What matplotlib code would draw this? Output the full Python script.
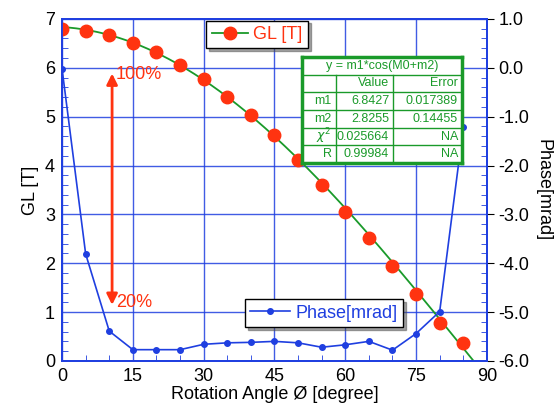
import numpy as np
import matplotlib.pyplot as plt
from matplotlib.ticker import MultipleLocator, FormatStrFormatter

plt.rcParams['font.family'] = ['Liberation Sans', 'DejaVu Sans']

# measured data
angle = [0, 5, 10, 15, 20, 25, 30, 35, 40, 45, 50, 55, 60, 65, 70, 75, 80, 85]
gl = [6.79, 6.75, 6.67, 6.51, 6.32, 6.06, 5.77, 5.40, 5.03, 4.63,
      4.11, 3.60, 3.05, 2.52, 1.94, 1.36, 0.78, 0.36]
phase = [-0.02, -3.81, -5.39, -5.77, -5.77, -5.77, -5.66, -5.63, -5.62, -5.60,
         -5.63, -5.72, -5.67, -5.60, -5.78, -5.44, -4.99, -1.21]

# fit result y = m1*cos(M0+m2)
m1 = 6.8427
m2 = 2.8255
fit_title = "y = m1*cos(M0+m2)"
fit_rows = [["", "Value", "Error"],
            ["m1", "6.8427", "0.017389"],
            ["m2", "2.8255", "0.14455"],
            [r"$\chi^2$", "0.025664", "NA"],
            ["R", "0.99984", "NA"]]

blue = '#1f3fe0'
red = '#ff3310'
green = '#1a9a2a'

fig = plt.figure(figsize=(5.59, 4.12), dpi=100)
ax = fig.add_axes([0.111, 0.124, 0.760, 0.830])
ax2 = ax.twinx()

xfit = np.linspace(0, 90, 300)
ax.plot(xfit, m1 * np.cos(np.radians(xfit + m2)), color=green, lw=1.3, zorder=3)
ax.plot(angle, gl, 'o', color=red, ms=9, zorder=4)

ax2.plot(angle, phase, '-o', color=blue, lw=1.2, ms=4, zorder=3)

ax.set_xlim(0, 90)
ax.set_ylim(0, 7)
ax2.set_ylim(-6, 1)

ax.xaxis.set_major_locator(MultipleLocator(15))
ax.xaxis.set_minor_locator(MultipleLocator(5))
ax.yaxis.set_major_locator(MultipleLocator(1))
ax.yaxis.set_minor_locator(MultipleLocator(0.2))
ax2.yaxis.set_major_locator(MultipleLocator(1))
ax2.yaxis.set_minor_locator(MultipleLocator(0.2))
ax2.yaxis.set_major_formatter(FormatStrFormatter('%.1f'))

ax.grid(True, which='major', color=blue, lw=1.0, alpha=0.85)
ax.tick_params(axis='both', which='major', direction='in', length=0, labelsize=13, pad=5)
ax.tick_params(axis='both', which='minor', direction='in', length=4, color=blue)
ax2.tick_params(axis='y', which='major', direction='out', length=5, color='black', labelsize=13)
ax2.tick_params(axis='y', which='minor', direction='in', length=4, color=blue)

for a in (ax, ax2):
    for s in a.spines.values():
        s.set_color(blue)
        s.set_linewidth(1.3)

ax.set_xlabel("Rotation Angle Ø [degree]", fontsize=13, labelpad=1)
ax.set_ylabel("GL [T]", fontsize=13)
ax2.set_ylabel("Phase[mrad]", fontsize=13, rotation=270, labelpad=16)

# arrow 100% -> 20%
ax.annotate("", xy=(10.6, 1.09), xytext=(10.6, 5.94),
            arrowprops=dict(arrowstyle='<|-|>', color=red, lw=2, mutation_scale=16), zorder=5)
ax.text(11.3, 5.86, "100%", color=red, fontsize=13, va='center', ha='left')
ax.text(11.5, 1.2, "20%", color=red, fontsize=13, va='center', ha='left')

# legends
leg1 = ax.legend([plt.Line2D([], [], color=green, marker='o', mfc=red, mec=red, ms=9, lw=1.3)],
                 ["GL [T]"], loc='upper left', bbox_to_anchor=(0.34, 0.995),
                 fontsize=13, frameon=True, fancybox=False, shadow=True,
                 handlelength=2.0, borderpad=0.3, handletextpad=0.3, borderaxespad=0)
for t in leg1.get_texts():
    t.set_color(red)
leg1.get_frame().set_edgecolor('black')
leg1.set_zorder(10)

leg2 = ax2.legend([plt.Line2D([], [], color=blue, marker='o', ms=4, lw=1.2)],
                  ["Phase[mrad]"], loc='upper left', bbox_to_anchor=(0.43, 0.18),
                  fontsize=13, frameon=True, fancybox=False, shadow=True,
                  handlelength=2.2, borderpad=0.3, handletextpad=0.3, borderaxespad=0)
for t in leg2.get_texts():
    t.set_color(blue)
leg2.get_frame().set_edgecolor('black')

# fit table drawn in its own small axes
tab_ax = fig.add_axes([302 / 559, 1 - 163 / 412, 160 / 559, 106 / 412])
tab_ax.set_xlim(0, 1)
tab_ax.set_ylim(0, 1)
tab_ax.set_xticks([])
tab_ax.set_yticks([])
tab_ax.set_facecolor('white')
for s in tab_ax.spines.values():
    s.set_color(green)
    s.set_linewidth(2.5)

nrows = len(fit_rows) + 1
rh = 1.0 / nrows
col_edges = [0, 0.21, 0.57, 1.0]
tab_ax.text(0.5, 1 - rh / 2, fit_title, color=green, fontsize=9, ha='center', va='center')
for i, row in enumerate(fit_rows):
    y_top = 1 - rh * (i + 1)
    tab_ax.axhline(y_top, color=green, lw=1.0)
    yc = y_top - rh / 2
    for j, val in enumerate(row):
        tab_ax.text(col_edges[j + 1] - 0.025, yc, val, color=green, fontsize=9,
                    ha='right', va='center')
for xe in col_edges[1:-1]:
    tab_ax.plot([xe, xe], [0, 1 - rh], color=green, lw=1.0)

fig.savefig('out.png', dpi=100)
